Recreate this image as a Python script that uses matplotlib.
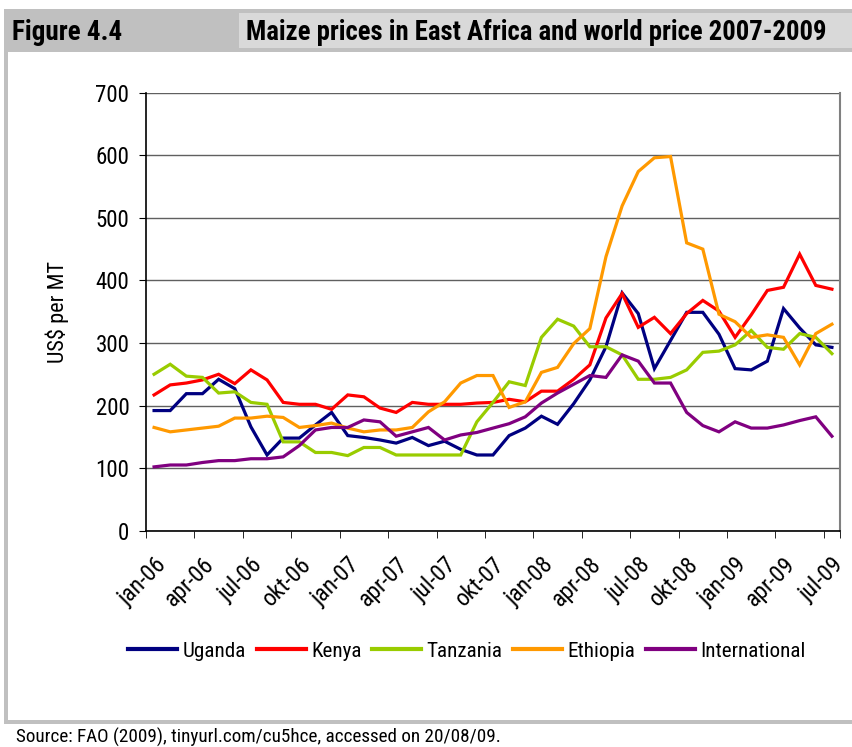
import matplotlib
matplotlib.use("Agg")
import matplotlib.pyplot as plt
from matplotlib import font_manager
from matplotlib.patches import Rectangle

# pick a narrow sans if one is there, the reference uses a condensed face
installed = {(f.name, f.stretch) for f in font_manager.fontManager.ttflist}
names_only = {n for n, s in installed}
family = 'Liberation Sans'
stretch = 'normal'
for cand in ['Liberation Sans Narrow', 'Roboto Condensed', 'Open Sans Condensed']:
    if cand in names_only:
        family = cand
        break
else:
    if ('DejaVu Sans', 'condensed') in installed:
        family, stretch = 'DejaVu Sans', 'condensed'
plt.rcParams['font.family'] = [family, 'DejaVu Sans']
plt.rcParams['font.stretch'] = stretch

# monthly prices, jan-06 .. jul-09 (US$ per MT)
months = ['jan-06', 'feb-06', 'mar-06', 'apr-06', 'mei-06', 'jun-06', 'jul-06', 'aug-06', 'sep-06',
          'okt-06', 'nov-06', 'dec-06', 'jan-07', 'feb-07', 'mar-07', 'apr-07', 'mei-07', 'jun-07',
          'jul-07', 'aug-07', 'sep-07', 'okt-07', 'nov-07', 'dec-07', 'jan-08', 'feb-08', 'mar-08',
          'apr-08', 'mei-08', 'jun-08', 'jul-08', 'aug-08', 'sep-08', 'okt-08', 'nov-08', 'dec-08',
          'jan-09', 'feb-09', 'mar-09', 'apr-09', 'mei-09', 'jun-09', 'jul-09']

uganda = [192, 192, 219, 219, 242, 227, 166, 121, 148, 148, 169, 189, 152, 149, 145, 140,
          149, 136, 143, 130, 121, 121, 152, 164, 183, 170, 203, 241, 294, 380, 347, 259,
          304, 349, 349, 314, 259, 257, 271, 355, 324, 297, 293]
kenya = [217, 233, 236, 241, 250, 235, 257, 241, 205, 202, 202, 194, 217, 214, 196, 189,
         205, 202, 202, 202, 204, 205, 210, 206, 223, 223, 242, 265, 340, 379, 325, 341,
         315, 347, 368, 351, 309, 345, 384, 389, 442, 392, 386]
tanzania = [250, 266, 247, 245, 220, 222, 205, 202, 142, 142, 125, 125, 120, 133, 133, 121,
            121, 121, 121, 121, 174, 205, 238, 232, 309, 338, 327, 294, 294, 281, 242, 242,
            245, 257, 285, 287, 297, 320, 293, 290, 315, 309, 283]
ethiopia = [165, 158, 161, 164, 167, 180, 180, 183, 181, 165, 168, 172, 164, 158, 161, 161,
            165, 190, 206, 236, 248, 248, 197, 206, 253, 261, 299, 323, 438, 519, 574, 596,
            598, 460, 450, 346, 334, 309, 313, 309, 265, 315, 330]
international = [102, 105, 105, 109, 112, 112, 115, 115, 118, 136, 161, 165, 165, 177, 174, 151,
                 158, 165, 145, 153, 157, 164, 171, 182, 204, 220, 234, 248, 245, 281, 271, 236,
                 236, 189, 168, 158, 174, 164, 164, 169, 176, 182, 151]

names = ['Uganda', 'Kenya', 'Tanzania', 'Ethiopia', 'International']
colors = ['#000080', '#ff0000', '#99cc00', '#ff9900', '#800080']

W, H = 853, 747
fig = plt.figure(figsize=(W / 100, H / 100), dpi=100)
renderer = fig.canvas.get_renderer()


def box(x0, y0, x1, y1, color):
    # rectangle given in pixels from the top-left corner
    fig.patches.append(Rectangle((x0 / W, 1 - y1 / H), (x1 - x0) / W, (y1 - y0) / H,
                                 transform=fig.transFigure, facecolor=color,
                                 edgecolor='none', zorder=0))


def fit(artist, width_px, size):
    # shrink/grow the font so the text is as wide as in the reference
    w = artist.get_window_extent(renderer).width
    new = size * width_px / w
    artist.set_fontsize(min(new, size * 1.3))


box(4, 9, 853, 52, '#c0c0c0')
box(239, 13, 853, 48, '#d9d9d9')
box(4, 52, 8, 724, '#c0c0c0')
box(4, 720, 853, 724, '#c0c0c0')

t1 = fig.text(12 / W, 1 - 32 / H, 'Figure 4.4', fontsize=15, fontweight='bold', va='center')
t2 = fig.text(246 / W, 1 - 32 / H, 'Maize prices in East Africa and world price 2007-2009',
              fontsize=15, fontweight='bold', va='center')
t3 = fig.text(16 / W, 1 - 737 / H, 'Source: FAO (2009), tinyurl.com/cu5hce, accessed on 20/08/09.',
              fontsize=12, va='center')
fit(t1, 111, 15)
fit(t2, 582, 15)
fit(t3, 482, 12)

ax = fig.add_axes([146 / W, 1 - 530.7 / H, 694 / W, 438 / H])
x = list(range(len(months)))
series = [uganda, kenya, tanzania, ethiopia, international]
for vals, name, c in zip(series, names, colors):
    ax.plot(x, vals, color=c, lw=2.3, label=name, solid_joinstyle='miter')

ax.set_xlim(-0.5, len(months) - 0.5)
ax.set_ylim(0, 700)
ax.set_yticks(range(0, 701, 100))
ax.yaxis.grid(True, color='#606060', lw=1)
ax.set_axisbelow(True)
ax.tick_params(axis='y', labelsize=16.5, length=5, direction='out', pad=7)

ax.set_xticks(x[::3])
ax.set_xticklabels(months[::3], rotation=45, ha='right', rotation_mode='anchor', fontsize=17)
ax.set_xticks([i - 0.5 for i in x[::3]] + [len(months) - 0.5], minor=True)
ax.tick_params(axis='x', which='major', length=0, pad=16)
ax.tick_params(axis='x', which='minor', length=5, direction='out')

ax.spines['right'].set_color('#808080')
ax.spines['right'].set_linewidth(1.5)
ax.spines['top'].set_visible(False)
ax.spines['left'].set_linewidth(1.2)
ax.spines['bottom'].set_linewidth(1.2)

ax.set_ylabel(r'US\$ per MT', fontsize=16)
ax.yaxis.set_label_coords((57 - 146) / 694, 0.5)
ax.yaxis.label.set_va('center')

leg = fig.legend(loc='center', bbox_to_anchor=(467 / W, 1 - 651 / H), ncol=5, frameon=False,
                 fontsize=16, handlelength=2.2, handletextpad=0.25, columnspacing=0.47)
lw_ = leg.get_window_extent(renderer).width
if lw_ > 677:
    for t in leg.get_texts():
        t.set_fontsize(16 * 677 / lw_)
for h in leg.legend_handles:
    h.set_linewidth(3)

fig.savefig('out.png', dpi=100)
